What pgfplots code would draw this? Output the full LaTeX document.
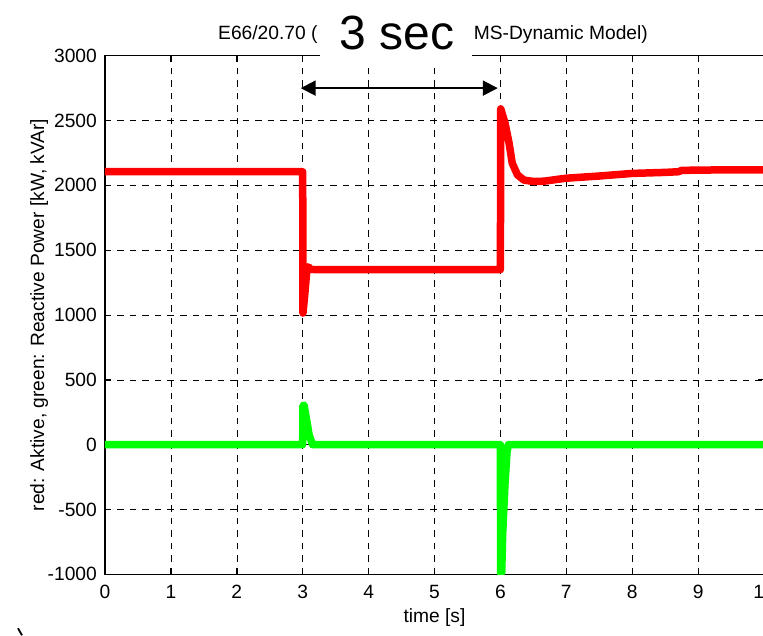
\documentclass[border=0pt]{standalone}
\usepackage{pgfplots}
\pgfplotsset{compat=1.18}
\usepackage{fontspec}
\setmainfont{Liberation Sans}
\usetikzlibrary{arrows.meta}

\definecolor{pred}{RGB}{255,0,0}
\definecolor{pgreen}{RGB}{0,255,0}
\newcommand{\lblfont}{\fontsize{19.2}{23}\selectfont}

\begin{document}
\begin{tikzpicture}[x=1pt,y=1pt]
\useasboundingbox (-105,-60.7) rectangle (658,574.3);
\begin{axis}[
  at={(0,0)}, anchor=south west,
  scale only axis, width=659pt, height=518.6pt,
  xmin=0, xmax=10, ymin=-1000, ymax=3000,
  xtick={0,1,...,10}, ytick={-1000,-500,...,3000},
  scaled ticks=false,
  grid=major,
  major grid style={black, line width=0.6pt, dash pattern=on 6.5pt off 6pt},
  axis line style={black, line width=1.2pt},
  tick style={black, line width=1pt},
  tick align=inside, major tick length=6pt,
  /pgf/number format/assume math mode=true,
  /pgf/number format/set thousands separator={},
  tick label style={font=\lblfont},
  label style={font=\lblfont},
  xticklabel style={anchor=north, inner sep=0pt, yshift=-11pt},
  yticklabel style={anchor=east, inner sep=0pt, xshift=-8pt},
  xlabel={time [s]},
  ylabel={red: Aktive, green: Reactive Power [kW, kVAr]},
  xlabel style={at={(axis description cs:0.5,-0.084)}, anchor=center},
  ylabel style={at={(axis description cs:-0.1,0.5)}, anchor=center},
]
% active power
\addplot[pred, line width=7.5pt, line join=round, line cap=round] coordinates {
  (0,2105) (3.0,2105) (3.004,1015) (3.03,1150) (3.06,1330) (3.085,1372)
  (3.12,1352) (3.2,1350) (6.0,1350) (6.005,2590) (6.07,2480) (6.13,2330)
  (6.18,2170) (6.26,2080) (6.36,2040) (6.5,2030) (6.66,2032) (6.92,2050)
  (7.0,2055) (7.5,2072) (8.0,2092) (8.5,2100) (8.7,2105) (8.75,2115)
  (9.0,2118) (10,2120)
};
% reactive power
\addplot[pgreen, line width=7.5pt, line join=round, line cap=round] coordinates {
  (0,0) (3.0,0) (3.003,300) (3.02,305) (3.06,190) (3.1,70) (3.15,0)
  (6.0,0) (6.003,-995) (6.02,-990) (6.035,-680) (6.07,-300) (6.1,-60)
  (6.12,0) (10,0)
};
% 3 s interval marker
\draw[black, line width=2pt,
  {Triangle[length=15pt,width=15pt]}-{Triangle[length=15pt,width=15pt]}]
  (2.97,2750) -- (5.96,2750);
\end{axis}
% title
\node[anchor=base west, inner sep=0pt, font=\lblfont] at (113,535) {E66/20.70 (};
\node[anchor=base east, inner sep=0pt, font=\lblfont] at (543,535) {MS-Dynamic Model)};
\fill[white] (215,506.3) rectangle (367,569.3);
\node[anchor=base, inner sep=0pt, font=\fontsize{48}{56}\selectfont] at (292,524.3) {3 sec};
\draw[black, line width=1.8pt] (-87,-54) -- (-83,-61);
\end{tikzpicture}
\end{document}
